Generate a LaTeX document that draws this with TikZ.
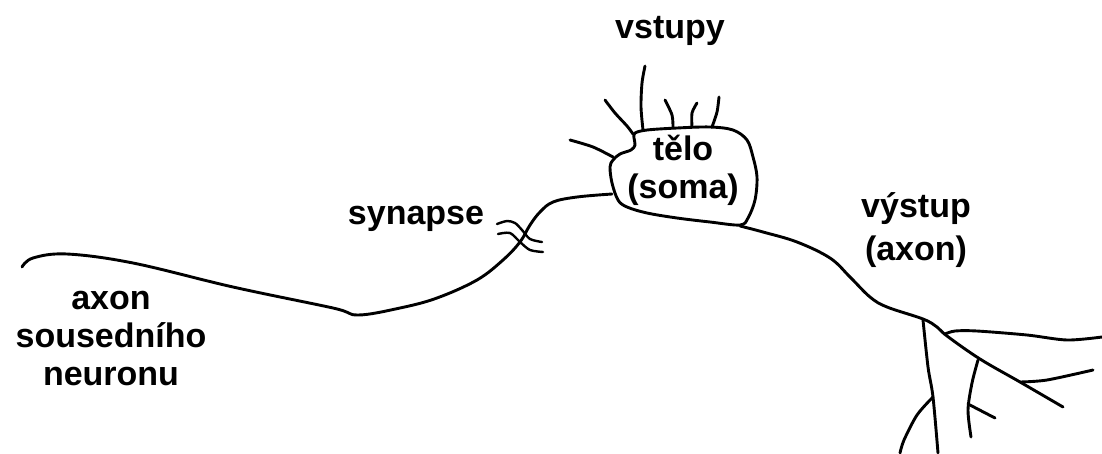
\documentclass[tikz,border=0pt]{standalone}
\usepackage{fontspec}
\setmainfont{Liberation Sans}

\tikzset{
    fibre/.style={line width=2.9pt, line cap=round, line join=round},
    label/.style={font=\fontsize{34}{38}\selectfont\bfseries, align=center, inner sep=0pt}
}

\begin{document}
\begin{tikzpicture}[x=1pt, y=-1pt]
    \useasboundingbox (0,0) rectangle (1102,453);

    % the cell body
    \draw[fibre] plot[smooth cycle, tension=0.55] coordinates {
        (635,133) (647,130) (677,128) (710,127) (733,130) (747,140) (753,157)
        (757,177) (755,200) (748,218) (740,225) (710,222) (677,218) (647,213)
        (627,207) (618,200) (612,183) (610,167) (613,160) (620,154) (631,150)
        (635,145) (634,138)};

    % the inputs (dendrites) on top of the body
    \draw[fibre] plot[smooth] coordinates {(645,66) (642,83) (641,107) (643,130)};
    \draw[fibre] plot[smooth] coordinates {(605,100) (615,113) (627,126) (633,134)};
    \draw[fibre] plot[smooth] coordinates {(665,100) (672,115) (673,128)};
    \draw[fibre] plot[smooth] coordinates {(697,103) (692,113) (692,127)};
    \draw[fibre] plot[smooth] coordinates {(719,97) (717,112) (712,127)};
    \draw[fibre] plot[smooth] coordinates {(570,140) (593,147) (613,157)};

    % axon of the neighbouring neuron, running into the body
    \draw[fibre] plot[smooth, tension=0.6] coordinates {
        (22,267) (33,258) (67,254) (133,263) (233,287) (333,308) (358,315)
        (400,308) (437,298) (477,280) (503,260) (520,242) (530,225) (540,212)
        (553,202) (577,197) (612,194)};

    % the synapse mark (two waves across the fibre)
    \draw[fibre, line width=2.4pt] plot[smooth] coordinates {(497,224) (507,221) (515,223) (522,230) (530,239) (542,242)};
    \draw[fibre, line width=2.4pt] plot[smooth] coordinates {(498,234) (510,233) (520,242) (530,250) (543,252)};

    % the output axon and its branches
    \draw[fibre] plot[smooth, tension=0.6] coordinates {
        (740,226) (763,232) (797,242) (830,258) (850,277) (870,297) (887,307)
        (923,319) (937,327) (947,336) (980,359) (1020,382) (1063,407)};
    \draw[fibre] plot[smooth] coordinates {(945,334) (955,331) (977,331) (1027,335) (1067,340) (1102,337)};
    \draw[fibre] plot[smooth] coordinates {(1020,382) (1047,380) (1093,370)};
    \draw[fibre] plot[smooth] coordinates {(923,320) (928,367) (933,397) (938,453)};
    \draw[fibre] plot[smooth] coordinates {(933,397) (917,415) (904,440) (900,453)};
    \draw[fibre] plot[smooth] coordinates {(978,360) (972,383) (968,410) (971,437)};
    \draw[fibre] (968,404) -- (995,418);

    % the texts
    \node[label] (vstupy) at (670,31) {vstupy};
    \node[label] (telo) at (683,170) {tělo\\(soma)};
    \node[label] (synapse) at (416,219) {synapse};
    \node[label, font=\fontsize{34}{43}\selectfont\bfseries] (vystup) at (916,230) {výstup\\(axon)};
    \node[label] (soused) at (111,339) {axon\\sousedního\\neuronu};

\end{tikzpicture}
\end{document}
